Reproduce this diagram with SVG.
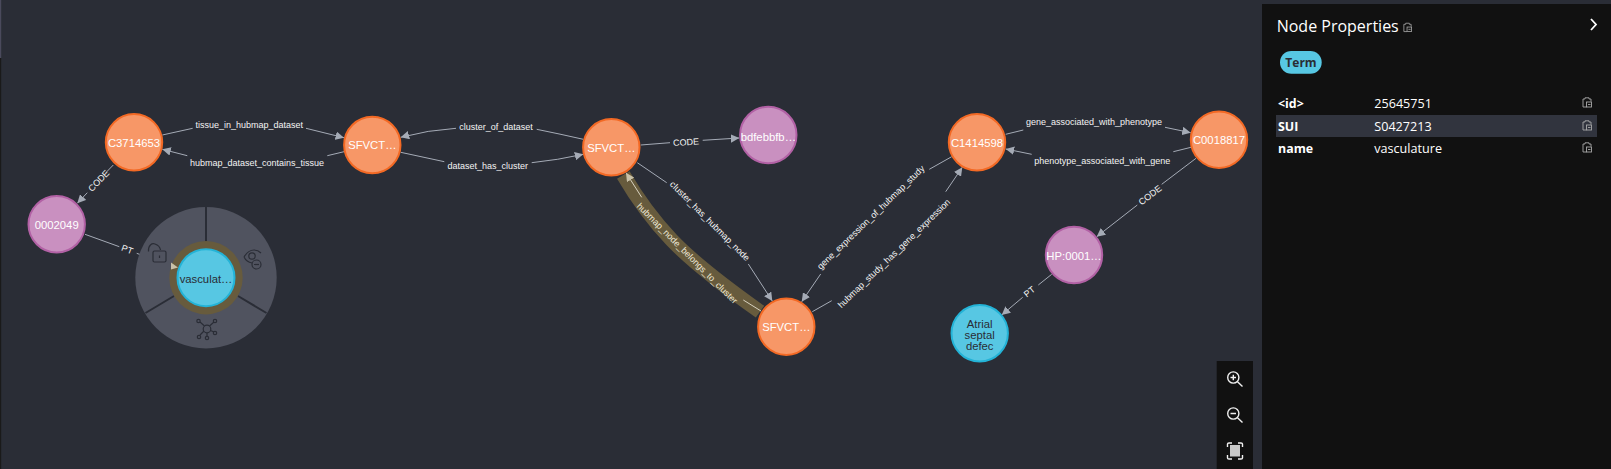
<svg xmlns="http://www.w3.org/2000/svg" width="1611" height="469" viewBox="0 0 1611 469">
<style>
.bg{fill:#2a2d36}
.e{fill:none;stroke:#a5abb6;stroke-width:1}
.l{font:9px "Liberation Sans",Arial,sans-serif;fill:#f4f4f4;text-anchor:middle}
.n{stroke-width:2}
.o{fill:#f79767;stroke:#f36924}
.p{fill:#c990c0;stroke:#b261a5}
.t{fill:#57c7e3;stroke:#23b3d7}
.nt{font:11.3px "Liberation Sans",Arial,sans-serif;fill:#fff;text-anchor:middle}
.nd{fill:#2a2c34}
.ic{fill:none;stroke:#2a2d36;stroke-width:1.2}
.pt{font-family:"Open Sans","Noto Sans",sans-serif;fill:#fff}
.k{font-size:12.4px;font-weight:700}
.v{font-size:12.6px}
.cp{fill:none;stroke:#a8a8a8;stroke-width:.9}
.z{fill:none;stroke:#f0f0f0;stroke-width:1.4}
</style>
<defs>
<marker id="a" viewBox="0 0 10 10" refX="10" refY="5" markerWidth="8.5" markerHeight="8.5" markerUnits="userSpaceOnUse" orient="auto"><path d="M0 0L10 5L0 10z" fill="#a5abb6"/></marker>
<marker id="b" viewBox="0 0 10 10" refX="10" refY="5" markerWidth="8.5" markerHeight="8.5" markerUnits="userSpaceOnUse" orient="auto"><path d="M0 0L10 5L0 10z" fill="#c9c1a8"/></marker>
<symbol id="clip" viewBox="0 0 10 11" overflow="visible"><path class="cp" d="M1 2H3V.8H7V2H9V4.5M1 2V10H4.5"/><rect class="cp" x="4.5" y="5" width="5" height="5"/><path class="cp" d="M6 7.5H8.5"/></symbol>
</defs>
<rect class="bg" width="1611" height="469"/>
<rect x="0" y="0" width="1.2" height="58" fill="#4a4a5c"/>
<rect x="0" y="58" width="1.2" height="411" fill="#1a1a1a"/>
<g id="connectors">
<path d="M623.3 175Q645 212 671.7 240T760 311.7" fill="none" stroke="#675b3d" stroke-width="14.5"/>
<path class="e" d="M162.3 135L192.7 128.3"/><path class="e" marker-end="url(#a)" d="M306 128.3L344 137.7"/>
<path class="e" d="M344 151.7L327.3 155.7"/><path class="e" marker-end="url(#a)" d="M187.3 155.7L162.3 149.3"/>
<path class="e" d="M113.3 165L106 172.5"/><path class="e" marker-end="url(#a)" d="M87.3 192.7L77.3 203.3"/>
<path class="e" d="M85 234.3L119.3 246.7"/><path class="e" d="M136.7 253.3L140 254.5"/>
<path class="e" d="M583.3 139.3Q560 134 536.7 129.3"/><path class="e" marker-end="url(#a)" d="M456 128.3Q428 130 400.7 137.3"/>
<path class="e" d="M400.7 152.3L444.3 161.7"/><path class="e" marker-end="url(#a)" d="M531.7 162.7Q558 160 583.3 154.3"/>
<path class="e" d="M640.7 145L670 142.7"/><path class="e" marker-end="url(#a)" d="M702.7 140.3L739.3 138"/>
<path class="e" d="M637.3 162.7L666.7 182.7"/><path class="e" marker-end="url(#a)" d="M748.3 264L772.3 301"/>
<path d="M761 311L743.3 300" fill="none" stroke="#d8d2c0" stroke-width="1"/><path d="M641.7 197.3L626 172.7" fill="none" stroke="#d8d2c0" stroke-width="1" marker-end="url(#b)"/>
<path class="e" d="M951.7 156.7L929.3 169.3"/><path class="e" marker-end="url(#a)" d="M820.7 274L801.7 301.7"/>
<path class="e" d="M812.3 311.7L831.7 300.7"/><path class="e" marker-end="url(#a)" d="M945.7 191.7L962.3 167.3"/>
<path class="e" d="M1005.7 134.3L1023.3 130"/><path class="e" marker-end="url(#a)" d="M1165 127.3L1190.7 132.7"/>
<path class="e" d="M1191 147.3L1173.3 151.7"/><path class="e" marker-end="url(#a)" d="M1031.7 154.3L1005.7 149"/>
<path class="e" d="M1196 158.3L1161.7 184.3"/><path class="e" marker-end="url(#a)" d="M1137.3 205L1096.7 236.7"/>
<path class="e" d="M1051.7 274.3L1038.3 285"/><path class="e" marker-end="url(#a)" d="M1022.7 297.3L1001.7 315"/>
<text class="l" x="249.3" y="127.5">tissue_in_hubmap_dataset</text>
<text class="l" x="257" y="166.2">hubmap_dataset_contains_tissue</text>
<text class="l" transform="translate(98.7 180.7) rotate(-46)" y="3.2">CODE</text>
<text class="l" transform="translate(127.3 249.3) rotate(20)" y="3.2">PT</text>
<text class="l" x="496" y="130">cluster_of_dataset</text>
<text class="l" x="487.7" y="168.5">dataset_has_cluster</text>
<text class="l" transform="translate(686 142) rotate(-4)" y="3.2">CODE</text>
<text class="l" transform="translate(710 221) rotate(45)" y="3.2">cluster_has_hubmap_node</text>
<text class="l" transform="translate(687.3 253.3) rotate(45)" y="3.2" style="fill:#ece6d4">hubmap_node_belongs_to_cluster</text>
<text class="l" transform="translate(870.7 217.3) rotate(-44)" y="3.2">gene_expression_of_hubmap_study</text>
<text class="l" transform="translate(894 253.3) rotate(-44)" y="3.2">hubmap_study_has_gene_expression</text>
<text class="l" x="1094" y="125.2">gene_associated_with_phenotype</text>
<text class="l" x="1102.3" y="163.9">phenotype_associated_with_gene</text>
<text class="l" transform="translate(1150 195) rotate(-37)" y="3.2">CODE</text>
<text class="l" transform="translate(1029.3 291.7) rotate(-38)" y="3.2">PT</text>
</g>
<g id="n-vasculature">
<circle cx="206" cy="277.7" r="70.7" fill="#50535f"/>
<path d="M206 207V243M145.5 313L174 296M266.5 313L238 296" fill="none" stroke="#2a2d36" stroke-width="2"/>
<circle cx="206" cy="277.7" r="36.7" fill="#675b3d"/>
<path d="M178 267.5L171 262.5L171 269.5z" fill="#c9c1a8"/>
<circle class="n t" cx="206" cy="277.7" r="28.5"/>
<text class="nt nd" x="206" y="283">vasculat…</text>
<path class="ic" d="M148.5 251.5C148 245 152 243 155 244C158 245 160 247 160.5 250"/><rect class="ic" x="153" y="251" width="13" height="11" rx="1.5"/><path class="ic" d="M159.5 255.5V258"/>
<path class="ic" d="M244 257C247 252 251 250 254 250C257 250 259 251 261 253M244 257C246 261 249 262.5 252 263"/><circle class="ic" cx="252" cy="256" r="3.2"/><circle class="ic" cx="256.5" cy="264.5" r="4.5"/><path class="ic" d="M254 264.5H259"/>
<circle class="ic" cx="207" cy="329" r="3.8"/><path class="ic" d="M204.5 326L200 322M209.5 326L214 322M204 331L200 335M210.5 330.5L214 332M207 333V336"/><circle class="ic" cx="198.5" cy="321" r="1.7"/><circle class="ic" cx="215" cy="321" r="1.7"/><circle class="ic" cx="199" cy="337" r="1.7"/><circle class="ic" cx="215" cy="333" r="1.7"/><circle class="ic" cx="207" cy="338" r="1.7"/>
</g>
<g id="n-c3714653"><circle class="n o" cx="134" cy="142.3" r="28.2"/><text class="nt" x="134" y="146.5">C3714653</text></g>
<g id="n-sfvct1"><circle class="n o" cx="372.3" cy="145" r="28.2"/><text class="nt" x="372.3" y="149.2">SFVCT…</text></g>
<g id="n-0002049"><circle class="n p" cx="56.7" cy="224.3" r="28.2"/><text class="nt" x="56.7" y="229">0002049</text></g>
<g id="n-sfvct2"><circle class="n o" cx="611.3" cy="147.3" r="28.2"/><text class="nt" x="611.3" y="152">SFVCT…</text></g>
<g id="n-bdfebbfb"><circle class="n p" cx="768.3" cy="135" r="28.2"/><text class="nt" x="768.3" y="141">bdfebbfb…</text></g>
<g id="n-sfvct3"><circle class="n o" cx="786.3" cy="326.7" r="28.2"/><text class="nt" x="786.3" y="331">SFVCT…</text></g>
<g id="n-c1414598"><circle class="n o" cx="977" cy="142.3" r="28.2"/><text class="nt" x="977" y="147">C1414598</text></g>
<g id="n-c0018817"><circle class="n o" cx="1219" cy="139.7" r="28.2"/><text class="nt" x="1219" y="144">C0018817</text></g>
<g id="n-hp"><circle class="n p" cx="1074" cy="255" r="28.2"/><text class="nt" x="1074" y="260">HP:0001…</text></g>
<g id="n-atrial"><circle class="n t" cx="979.7" cy="333.3" r="28.2"/><text class="nt nd" x="979.7" y="328">Atrial</text><text class="nt nd" x="979.7" y="339">septal</text><text class="nt nd" x="979.7" y="350">defec</text></g>
<g id="zoom-controls">
<rect x="1216.7" y="361" width="36.3" height="108" fill="#111"/>
<circle class="z" cx="1233.3" cy="377.5" r="5.6"/><path class="z" d="M1237.5 381.7L1242.5 386.5M1230.5 377.5H1236M1233.3 374.8V380.3"/>
<circle class="z" cx="1233.3" cy="413.5" r="5.6"/><path class="z" d="M1237.5 417.7L1242.5 422.5M1230.5 413.5H1236"/>
<rect x="1230" y="445" width="10" height="11.5" fill="#c8c8c8"/><path class="z" d="M1227.5 447V444Q1227.5 443 1229 443H1232M1238 443H1241Q1242.5 443 1242.5 444V447M1242.5 455V458Q1242.5 459 1241 459H1238M1232 459H1229Q1227.5 459 1227.5 458V455"/>
</g>
<g id="panel">
<rect x="1262" y="4" width="349" height="465" fill="#111"/>
<text class="pt" x="1276.7" y="31.7" font-size="16">Node Properties</text>
<use href="#clip" x="1402.5" y="22.5" width="10" height="10"/>
<path d="M1591 19L1596 24.5L1591 30" fill="none" stroke="#fff" stroke-width="1.8"/>
<rect x="1280" y="51" width="41.7" height="22.7" rx="11.3" fill="#57c7e3"/>
<text x="1301" y="67" text-anchor="middle" font-family="'Open Sans','Noto Sans',sans-serif" font-size="12" font-weight="700" fill="#2a2c34">Term</text>
<rect x="1276" y="115" width="321" height="22" fill="#31343e"/>
<text class="pt k" x="1278" y="107.5">&lt;id&gt;</text><text class="pt v" x="1374.3" y="107.5">25645751</text>
<text class="pt k" x="1278" y="131">SUI</text><text class="pt v" x="1374.3" y="131">S0427213</text>
<text class="pt k" x="1278" y="153">name</text><text class="pt v" x="1374.3" y="153">vasculature</text>
<use href="#clip" x="1582" y="97" width="10" height="11"/><use href="#clip" x="1582" y="120" width="10" height="11"/><use href="#clip" x="1582" y="142" width="10" height="11"/>
</g>
</svg>
